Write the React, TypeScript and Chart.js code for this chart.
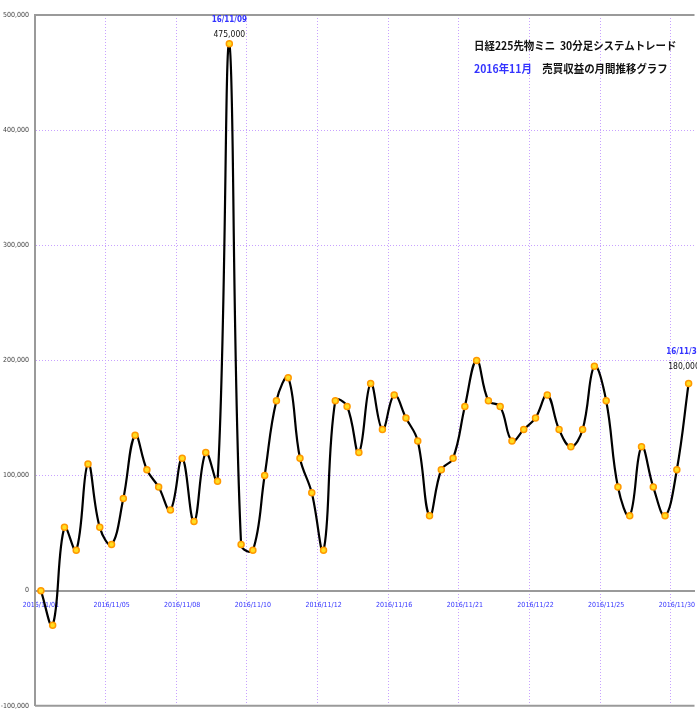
import React, { useEffect, useRef } from "react";
import { Chart, registerables } from "chart.js";

Chart.register(...registerables);

// ---- data ----
const tickLabels = [
  "2016/11/01",
  "2016/11/05",
  "2016/11/08",
  "2016/11/10",
  "2016/11/12",
  "2016/11/16",
  "2016/11/21",
  "2016/11/22",
  "2016/11/25",
  "2016/11/30",
];

const profit = [
  0, -30000, 55000, 35000, 110000, 55000, 40000, 80000, 135000, 105000,
  90000, 70000, 115000, 60000, 120000, 95000, 475000, 40000, 35000, 100000,
  165000, 185000, 115000, 85000, 35000, 165000, 160000, 120000, 180000, 140000,
  170000, 150000, 130000, 65000, 105000, 115000, 160000, 200000, 165000, 160000,
  130000, 140000, 150000, 170000, 140000, 125000, 140000, 195000, 165000, 90000,
  65000, 125000, 90000, 65000, 105000, 180000,
];

const tickEvery = 6;

const categories = profit.map((_, i) =>
  i % tickEvery === 0 ? tickLabels[i / tickEvery] ?? "" : ""
);

const annotatedPoints = [
  { index: 16, date: "16/11/09" },
  { index: 55, date: "16/11/30" },
];

const titleLine1 = "日経225先物ミニ  30分足システムトレード";
const titleLine2Blue = "2016年11月";
const titleLine2Black = "売買収益の月間推移グラフ";

// ---- styles ----
const GRID = "#c8a2ff";
const FRAME = "#9a9a9a";
const NARROW = '"Liberation Sans Narrow", "DejaVu Sans Condensed", sans-serif';

const fmt = (v: number) => v.toLocaleString("en-US");

const framePlugin = {
  id: "frame",
  beforeDatasetsDraw(chart: any) {
    const { ctx, chartArea } = chart;
    ctx.save();
    ctx.strokeStyle = FRAME;
    ctx.lineWidth = 2;
    ctx.beginPath();
    ctx.moveTo(chartArea.left, chartArea.top);
    ctx.lineTo(chartArea.right, chartArea.top);
    ctx.moveTo(chartArea.left, chartArea.bottom);
    ctx.lineTo(chartArea.right, chartArea.bottom);
    ctx.stroke();
    ctx.restore();
  },
};

const annotatePlugin = {
  id: "annotate",
  afterDatasetsDraw(chart: any) {
    const { ctx, chartArea } = chart;
    const meta = chart.getDatasetMeta(0);
    ctx.save();
    ctx.textAlign = "center";
    ctx.textBaseline = "middle";
    annotatedPoints.forEach((a) => {
      const el = meta.data[a.index];
      if (!el) return;
      const x = Math.min(el.x, chart.width - 16);
      const dateY = Math.max(el.y - 32, chartArea.top + 5);
      ctx.font = `bold 8px ${NARROW}`;
      ctx.fillStyle = "#3333ff";
      ctx.fillText(a.date, x, dateY);
      ctx.font = `8.5px ${NARROW}`;
      ctx.fillStyle = "#111";
      ctx.fillText(fmt(profit[a.index]), x, dateY + 15);
    });
    ctx.restore();
  },
};

export default function App() {
  const canvasRef = useRef<HTMLCanvasElement | null>(null);

  useEffect(() => {
    if (!canvasRef.current) return;
    const chart = new Chart(canvasRef.current, {
      type: "line",
      data: {
        labels: categories,
        datasets: [
          {
            data: profit,
            borderColor: "#000",
            borderWidth: 2.2,
            tension: 0.4,
            pointRadius: 3,
            pointBackgroundColor: "#ffdd22",
            pointBorderColor: "#ff9900",
            pointBorderWidth: 1.5,
            fill: false,
          },
        ],
      },
      options: {
        animation: false,
        responsive: false,
        maintainAspectRatio: false,
        layout: { padding: { left: 0, top: 15, right: 0, bottom: 4 } },
        plugins: {
          legend: { display: false },
          tooltip: { enabled: false },
          title: { display: false },
        },
        scales: {
          x: {
            type: "category",
            offset: true,
            position: { y: 0 } as any,
            grid: {
              offset: true,
              drawTicks: false,
              lineWidth: 1,
              color: (c: any) =>
                c.index % tickEvery === 0 && c.index > 0 ? GRID : "transparent",
            },
            border: { display: true, color: FRAME, width: 2, dash: [1, 2] },
            ticks: {
              autoSkip: false,
              maxRotation: 0,
              minRotation: 0,
              padding: 10,
              color: "#3333ff",
              font: { family: NARROW, size: 7 },
              callback: (_v: any, i: number) => categories[i],
            },
          },
          y: {
            min: -100000,
            max: 500000,
            afterFit: (s: any) => {
              s.width = 35;
            },
            grid: {
              drawTicks: false,
              lineWidth: 1,
              color: (c: any) => {
                const v = c.tick ? c.tick.value : NaN;
                return v === 0 || v === -100000 || v === 500000
                  ? "transparent"
                  : GRID;
              },
            },
            border: { display: true, color: FRAME, width: 2, dash: [1, 2] },
            ticks: {
              stepSize: 100000,
              padding: 6,
              color: "#444",
              font: { family: NARROW, size: 7 },
              callback: (v: any) => fmt(Number(v)),
            },
          },
        },
      },
      plugins: [framePlugin, annotatePlugin],
    });
    return () => chart.destroy();
  }, []);

  return (
    <div
      style={{
        position: "fixed",
        left: 0,
        top: 0,
        width: 697,
        height: 709,
        overflow: "hidden",
        background: "#fff",
      }}
    >
      <canvas
        ref={canvasRef}
        width={700}
        height={716}
        style={{ width: 700, height: 716, display: "block" }}
      />
      <div
        style={{
          position: "absolute",
          left: 474,
          top: 38,
          fontFamily: '"Noto Sans CJK JP", sans-serif',
          fontSize: 11,
          fontWeight: "bold",
          lineHeight: "14px",
          whiteSpace: "pre",
          color: "#111",
          transform: "scaleX(0.95)",
          transformOrigin: "left top",
        }}
      >
        <div>{titleLine1}</div>
        <div style={{ marginTop: 9 }}>
          <span style={{ color: "#3333ff" }}>{titleLine2Blue}</span>
          {"\u3000"}
          <span>{titleLine2Black}</span>
        </div>
      </div>
    </div>
  );
}
